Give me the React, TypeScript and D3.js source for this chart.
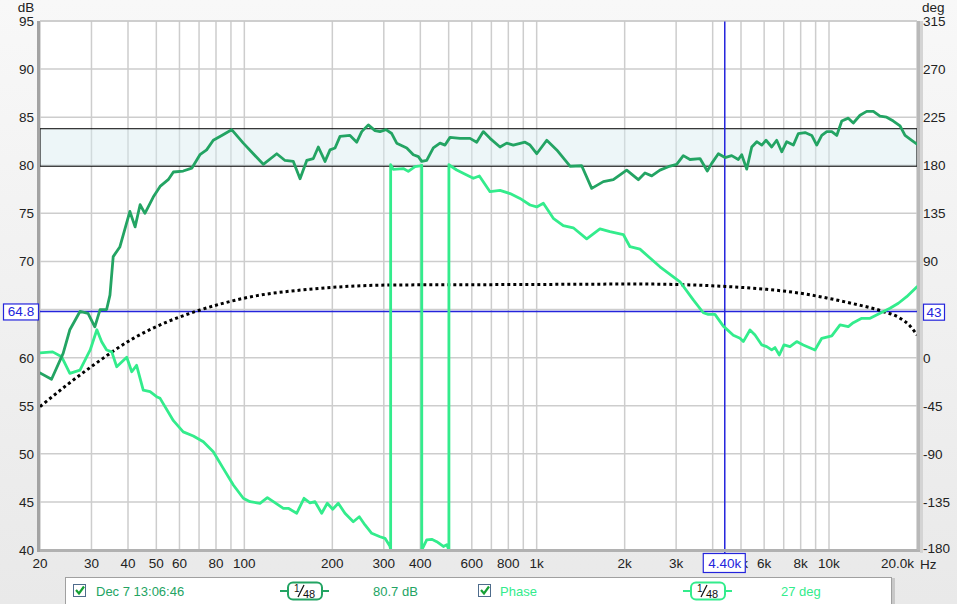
import * as d3 from "d3";

const W = 957;
const H = 604;

// measured magnitude response, [Hz, dB]
const magnitude: [number, number][] = [
  [20, 58.4], [21.9, 57.75], [24, 60.45], [25.3, 62.9], [27.4, 64.8], [29.2, 64.6],
  [30.8, 63.2], [32.1, 65.0], [33.8, 65.0], [34.7, 66.5], [35.6, 70.5], [37.5, 71.5],
  [40.6, 75.2], [42.3, 73.6], [44, 75.9], [45.7, 75.0], [48.8, 76.7], [51.5, 77.8],
  [54.9, 78.5], [57.2, 79.3], [61.8, 79.4], [66.1, 79.7], [70.5, 81.1], [74.3, 81.6],
  [78.3, 82.6], [83.7, 83.1], [90.5, 83.7], [99.2, 82.3], [107.3, 81.2], [116.1, 80.1],
  [129.1, 81.2], [137.8, 80.5], [147.1, 80.4], [155.1, 78.6], [163.5, 80.5], [172.2, 80.7],
  [179.1, 81.9], [188.8, 80.4], [196.4, 81.6], [204.3, 81.8], [212.5, 83.0], [229.9, 83.1],
  [242.4, 82.4], [252.1, 83.5], [265.5, 84.2], [279.9, 83.6], [291.2, 83.5], [305.2, 83.7],
  [319.3, 83.3], [332.1, 82.3], [359.4, 81.8], [378.5, 81.1], [393.8, 80.9], [404.5, 80.4],
  [420.6, 80.5], [443.1, 81.8], [467.1, 82.3], [485.9, 82.1], [505.4, 82.9], [546.8, 82.8],
  [591.7, 82.8], [623.6, 82.4], [656.9, 83.5], [692.5, 82.8], [749.1, 81.9], [789.7, 82.3],
  [831.9, 82.1], [912.4, 82.4], [949.1, 82.1], [1000.5, 81.2], [1082.7, 82.6], [1171.4, 81.6],
  [1300.5, 79.9], [1425.7, 79.95], [1542.6, 77.6], [1690.7, 78.3], [1829.1, 78.5], [2032, 79.5],
  [2227, 78.5], [2347, 79.2], [2475, 78.9], [2641, 79.5], [2820, 79.85], [3012, 80.1],
  [3174, 81.0], [3345, 80.6], [3620, 80.7], [3834, 79.4], [3970, 80.2], [4183, 81.2],
  [4408, 80.8], [4646, 81.0], [4896, 80.6], [5028, 81.1], [5230, 79.6], [5442, 81.9],
  [5661, 82.45], [5889, 82.1], [6091, 82.6], [6368, 81.9], [6624, 82.6], [6891, 81.4],
  [7168, 82.45], [7551, 82.1], [7855, 83.3], [8281, 83.4], [8729, 83.1], [9080, 82.1],
  [9445, 83.1], [9826, 83.5], [10220, 83.5], [10630, 83.1], [11060, 84.6], [11640, 84.9],
  [12110, 84.4], [12770, 85.2], [13460, 85.6], [14180, 85.6], [14940, 85.1], [15750, 85.0],
  [16600, 84.6], [17500, 84.1], [18200, 83.1], [19190, 82.6], [20000, 82.2],
];

// phase, [Hz, deg] (wraps at +/-180)
const phase: [number, number][] = [
  [20, 4.5], [22.1, 5.4], [23.7, 0.9], [25.3, -14.7], [27.4, -11.7], [29.7, 7.2],
  [31.3, 26.1], [32.5, 14.9], [33.8, 7.2], [35.2, 5.4], [36.6, -8.5], [39.6, 0.3],
  [41.2, -13.2], [42.8, -7.2], [45.1, -30.3], [47.6, -31.9], [50.1, -36.5], [51.5, -38.1],
  [57.2, -59], [61.8, -69.5], [66.9, -73.4], [72.4, -78.7], [78.3, -88], [84.7, -103.6],
  [91.7, -119.2], [99.2, -131.6], [104.6, -134.8], [113.1, -136.3], [119.9, -131],
  [125.7, -134.8], [136, -141], [141.4, -141], [151.1, -145.6], [160, -131.6], [167.7, -135.8],
  [174.5, -134.8], [183.9, -145.6], [192.2, -136.3], [200.6, -141.9], [209.6, -136.3],
  [220.9, -145.6], [235.9, -153.6], [247.3, -148.9], [258.7, -156.6], [272.7, -164.4],
  [291.2, -167.6], [302.8, -169.1], [315, -176.4], [316.6, -180],
  [316.6, 180.5], [323.2, 176.2], [349.8, 176.9], [363.8, 174.3], [383.5, 178.8],
  [398.9, 179.5], [404.5, 180],
  [404.5, -180], [420.6, -170.6], [437.6, -170], [455.3, -172.2], [479.6, -176.7],
  [492.7, -175], [501, -180],
  [501, 180.5], [532.7, 175.6], [576.3, 171], [607.3, 167.8], [636.8, 170], [692.5, 155.3],
  [749.1, 156.5], [811, 153.5], [877, 149], [949.1, 142.8], [1000.5, 141], [1054, 144.4],
  [1140, 130.4], [1233, 123.6], [1334, 121.5], [1483, 111.2], [1646, 120.5], [1781, 117.9],
  [1979, 115.2], [2085, 103.8], [2256, 101.5], [2641, 85], [3093, 71], [3434, 54],
  [3715, 42], [3864, 40.5], [4073, 40.5], [4350, 29.5], [4706, 21], [4961, 18.1],
  [5092, 15], [5367, 25.9], [5584, 21.2], [5889, 11.9], [6123, 10.3], [6368, 7.2],
  [6536, 9.4], [6762, 2.5], [7015, 11.9], [7355, 10.3], [7755, 15], [8166, 11.9],
  [8954, 7.2], [9445, 18.1], [10220, 20.3], [10910, 30.6], [11640, 29], [12110, 32.7],
  [12940, 36.8], [13820, 36.8], [14950, 41.5], [16170, 46.2], [17270, 50.9], [18440, 57],
  [20000, 66.4],
];

// dotted target curve, [Hz, dB]
const target: [number, number][] = [
  [20, 54.9], [24.7, 57.15], [30.4, 59.2], [41.7, 62.0], [54.3, 63.7], [70.5, 64.95],
  [100.5, 66.2], [181.5, 67.2], [315, 67.55], [877, 67.6], [2256, 67.65], [4408, 67.4],
  [6123, 67.1], [7755, 66.75], [9826, 66.2], [12110, 65.6], [15340, 64.8], [17500, 64.1],
  [18930, 63.3], [20000, 62.35],
];

const dbTicks = [40, 45, 50, 55, 60, 65, 70, 75, 80, 85, 90, 95];
const dbTickLabels = ["40", "45", "50", "55", "60", "", "70", "75", "80", "85", "90", "95"];
const degTicks = [-180, -135, -90, -45, 0, 45, 90, 135, 180, 225, 270, 315];
const degTickLabels = ["-180", "-135", "-90", "-45", "0", "", "90", "135", "180", "225", "270", "315"];

const freqGrid = [
  20, 30, 40, 50, 60, 70, 80, 90, 100, 200, 300, 400, 500, 600, 700, 800, 900,
  1000, 2000, 3000, 4000, 5000, 6000, 7000, 8000, 9000, 10000, 20000,
];
const freqTicks = [20, 30, 40, 50, 60, 80, 100, 200, 300, 400, 600, 800, 1000, 2000, 3000, 5000, 6000, 8000, 10000];
const freqTickLabels = ["20", "30", "40", "50", "60", "80", "100", "200", "300", "400", "600", "800", "1k", "2k", "3k", "5k", "6k", "8k", "10k"];

const bandRange = [79.9, 83.8];
const cursorFreq = 4400;
const cursorDb = 64.8;
const cursorDeg = 43;

const MAG_COLOR = "#23a463";
const PHASE_COLOR = "#33ec8c";
const BLUE = "#2424dc";
const FONT = "'Liberation Sans', Arial, sans-serif";

function SmoothIcon({ x, color }: { x: number; color: string }) {
  return (
    <g>
      <line x1={x - 8} x2={x} y1={591} y2={591} stroke={color} strokeWidth={2} />
      <line x1={x + 34} x2={x + 41} y1={591} y2={591} stroke={color} strokeWidth={2} />
      <rect x={x} y={582.5} width={34} height={17} rx={5} fill="#fff" stroke={color} strokeWidth={2} />
      <text x={x + 6} y={592} fontSize={10} fill="#111" fontFamily={FONT}>1</text>
      <line x1={x + 10} y1={597} x2={x + 16} y2={585} stroke="#111" strokeWidth={1.2} />
      <text x={x + 15} y={598} fontSize={11} fill="#111" fontFamily={FONT}>48</text>
    </g>
  );
}

function CheckBox({ x }: { x: number }) {
  return (
    <g>
      <rect x={x + 0.5} y={584.5} width={12} height={12} fill="#fff" stroke="#4e6c8c" strokeWidth={1} />
      <path d={`M${x + 3},${590} l3,3.5 l5,-7`} fill="none" stroke="#16a034" strokeWidth={2.2} />
    </g>
  );
}

export default function App() {
  const left = 40, right = 917, top = 21, bottom = 550;

  const x = d3.scaleLog().domain([20, 20000]).range([left, right]);
  const yDb = d3.scaleLinear().domain([40, 95]).range([bottom, top]);
  const yDeg = d3.scaleLinear().domain([-180, 315]).range([bottom, top]);

  const magLine = d3.line<[number, number]>().x((d) => x(d[0])).y((d) => yDb(d[1]));
  const phaseLine = d3.line<[number, number]>().x((d) => x(d[0])).y((d) => yDeg(d[1]));
  const targetLine = d3
    .line<[number, number]>()
    .x((d) => x(d[0]))
    .y((d) => yDb(d[1]))
    .curve(d3.curveMonotoneX);

  const cx = x(cursorFreq);
  const cy = yDb(cursorDb);

  return (
    <div style={{ position: "fixed", left: 0, top: 0 }}>
      <svg width={W} height={H} style={{ display: "block" }}>
        <defs>
          <linearGradient id="bg" x1="0" y1="0" x2="0" y2="1">
            <stop offset="0" stopColor="#f8f8f8" />
            <stop offset="1" stopColor="#e9e9e9" />
          </linearGradient>
          <clipPath id="plot">
            <rect x={left} y={top - 2} width={right - left} height={bottom - top + 2} />
          </clipPath>
        </defs>
        <rect width={W} height={H} fill="url(#bg)" />

        {/* plot area */}
        <rect x={left} y={top} width={right - left} height={bottom - top} fill="#fff" />

        {/* grid */}
        {dbTicks.map((v) => (
          <line key={"h" + v} x1={left} x2={right} y1={yDb(v)} y2={yDb(v)} stroke="#cdcdcd" strokeWidth={1.5} />
        ))}
        {freqGrid.map((f) => (
          <line key={"v" + f} x1={x(f)} x2={x(f)} y1={top} y2={bottom} stroke="#cdcdcd" strokeWidth={1.5} />
        ))}

        {/* target band */}
        <rect
          x={left}
          y={yDb(bandRange[1])}
          width={right - left}
          height={yDb(bandRange[0]) - yDb(bandRange[1])}
          fill="#d7ecef"
          fillOpacity={0.45}
          stroke="#000"
          strokeWidth={1}
        />

        {/* cursors */}
        <line x1={left} x2={right} y1={cy} y2={cy} stroke={BLUE} strokeWidth={1.5} />
        <line x1={cx} x2={cx} y1={top} y2={553} stroke={BLUE} strokeWidth={1.5} />

        <g clipPath="url(#plot)" fill="none" strokeLinejoin="round" strokeLinecap="round">
          <path d={targetLine(target) ?? ""} stroke="#000" strokeWidth={3} strokeDasharray="3,3" strokeLinecap="butt" />
          <path d={phaseLine(phase) ?? ""} stroke={PHASE_COLOR} strokeWidth={2.8} />
          <path d={magLine(magnitude) ?? ""} stroke={MAG_COLOR} strokeWidth={2.8} />
        </g>

        {/* frame */}
        <line x1={left} x2={right} y1={top} y2={top} stroke="#c4c4c4" strokeWidth={1} />
        <rect x={left - 3} y={top} width={3} height={bottom - top + 2} fill="#a3a3a3" />
        <rect x={left} y={bottom - 1} width={right - left + 3} height={3} fill="#b1b1b1" />
        <rect x={right} y={top} width={3} height={bottom - top} fill="#b9b9b9" />
        <rect x={right + 3} y={top} width={3} height={bottom - top + 3} fill="#d4d4d4" />

        {/* axes text */}
        <g fontFamily={FONT} fontSize={13.5} fill="#222">
          <text x={26} y={12} textAnchor="middle">dB</text>
          <text x={922} y={12}>deg</text>
          {dbTicks.map((v, i) => (
            <text key={"l" + v} x={34} y={yDb(v) + 5} textAnchor="end">{dbTickLabels[i]}</text>
          ))}
          {degTicks.map((v, i) => (
            <text key={"r" + v} x={923} y={Math.min(yDeg(v) + 5, 553)}>{degTickLabels[i]}</text>
          ))}
          {freqTicks.map((f, i) => (
            <text key={"x" + f} x={x(f)} y={568} textAnchor="middle">{freqTickLabels[i]}</text>
          ))}
          <text x={914} y={568} textAnchor="end">20.0k</text>
          <text x={920} y={569}>Hz</text>
        </g>

        {/* cursor value boxes */}
        <g fontFamily={FONT} fontSize={13.5} fill={BLUE}>
          <rect x={3.5} y={cy - 7.5} width={35} height={16} fill="#fff" stroke={BLUE} strokeWidth={1.2} />
          <text x={21} y={cy + 5} textAnchor="middle">{cursorDb.toFixed(1)}</text>
          <rect x={923.5} y={yDeg(cursorDeg) - 7.5} width={21} height={16} fill="#fff" stroke={BLUE} strokeWidth={1.2} />
          <text x={934} y={yDeg(cursorDeg) + 5} textAnchor="middle">{cursorDeg}</text>
          <rect x={cx - 21.5} y={553.5} width={42} height={19} fill="#fff" stroke={BLUE} strokeWidth={1.2} />
          <text x={cx} y={568} textAnchor="middle">4.40k</text>
        </g>

        {/* legend */}
        <rect x={65.5} y={577.5} width={826} height={40} fill="#fff" stroke="#a0a0a0" strokeWidth={1} />
        <rect x={892} y={578} width={3} height={30} fill="#c8c8c8" />
        <CheckBox x={73} />
        <CheckBox x={478} />
        <g fontFamily={FONT} fontSize={13}>
          <text x={96} y={596} fill={MAG_COLOR}>Dec 7 13:06:46</text>
          <text x={373} y={596} fill={MAG_COLOR}>80.7 dB</text>
          <text x={500} y={596} fill={PHASE_COLOR}>Phase</text>
          <text x={781} y={596} fill={PHASE_COLOR}>27 deg</text>
        </g>
        <SmoothIcon x={288} color={MAG_COLOR} />
        <SmoothIcon x={691} color={PHASE_COLOR} />
      </svg>
    </div>
  );
}
